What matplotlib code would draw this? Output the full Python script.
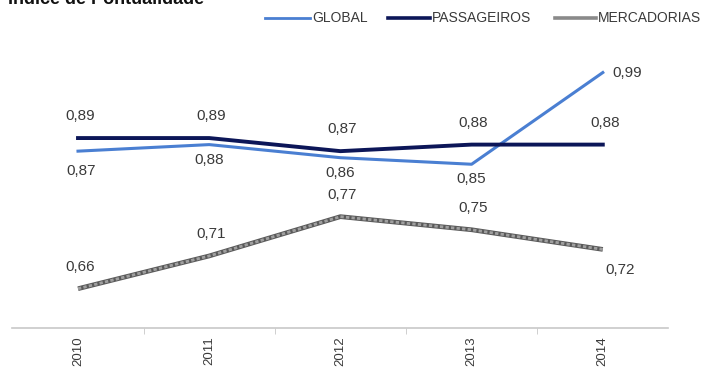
import matplotlib
matplotlib.use("Agg")
import matplotlib.pyplot as plt
from matplotlib.lines import Line2D

plt.rcParams['font.family'] = ['Liberation Sans', 'DejaVu Sans']

years = ['2010', '2011', '2012', '2013', '2014']
global_vals = [0.87, 0.88, 0.86, 0.85, 0.99]
passageiros_vals = [0.89, 0.89, 0.87, 0.88, 0.88]
mercadorias_vals = [0.66, 0.71, 0.77, 0.75, 0.72]
series_names = ['GLOBAL', 'PASSAGEIROS', 'MERCADORIAS']

c_global = '#4a7fd2'
c_pass = '#0c1658'
c_merc = '#8a8a8a'
c_text = '#3a3a3a'

W, H = 709, 370
fig = plt.figure(figsize=(W / 100, H / 100), dpi=100)
ax = fig.add_axes([12.4 / W, 42 / H, 656 / W, 262 / H])

x = list(range(len(years)))
ax.plot(x, mercadorias_vals, color='#5a5a5a', lw=3.4, solid_capstyle='butt', zorder=2)
ax.plot(x, mercadorias_vals, color='#a0a0a0', lw=2.0, ls=(0, (1.2, 0.8)), zorder=3)
ax.plot(x, global_vals, color=c_global, lw=2.2, zorder=4)
ax.plot(x, passageiros_vals, color=c_pass, lw=2.8, zorder=5)

ax.set_xlim(-0.5, len(years) - 0.5)
ax.set_ylim(0.60, 1.0)


def fmt(v):
    return f"{v:.2f}".replace('.', ',')


def label(i, v, dx_px, dy_px, ha='center'):
    # offsets given in pixels, converted to points (100 dpi)
    ax.annotate(fmt(v), (i, v), xytext=(dx_px * 0.72, dy_px * 0.72),
                textcoords='offset points', ha=ha, va='center',
                fontsize=11, color=c_text, zorder=6)


# PASSAGEIROS labels above the line
for i, v in enumerate(passageiros_vals):
    label(i, v, 2, 22)
# GLOBAL labels below, last one to the right
for i, v in enumerate(global_vals):
    if i == len(global_vals) - 1:
        label(i, v, 10, 0, ha='left')
    elif i == 0:
        label(i, v, 3, -20)
    else:
        label(i, v, 0, -15)
# MERCADORIAS labels above, last one below
for i, v in enumerate(mercadorias_vals):
    if i == len(mercadorias_vals) - 1:
        label(i, v, 17, -21)
    else:
        label(i, v, 2, 22)

for s in ['top', 'right', 'left']:
    ax.spines[s].set_visible(False)
ax.spines['bottom'].set_color('#c8c8c8')
ax.spines['bottom'].set_linewidth(1.2)
ax.set_yticks([])

ax.set_xticks(x)
ax.set_xticklabels(years, rotation=90, fontsize=9.5, color=c_text)
ax.tick_params(axis='x', length=0, pad=6)
ax.set_xticks([i + 0.5 for i in range(len(years) - 1)], minor=True)
ax.tick_params(axis='x', which='minor', length=4, color='#c8c8c8', direction='out')

fig.text(8 / W, 1 - 4 / H, 'Índice de Pontualidade', fontsize=13,
         fontweight='bold', color='#111111', ha='left', va='baseline')

# legend drawn in figure pixels
legend_y = 1 - 18 / H
legend_items = [
    (series_names[0], c_global, 2.0, 265, 310),
    (series_names[1], c_pass, 2.6, 388, 430),
    (series_names[2], c_merc, 2.6, 555, 596),
]
for name, col, lw, x0, x1 in legend_items:
    fig.add_artist(Line2D([x0 / W, x1 / W], [legend_y, legend_y], color=col,
                          lw=lw, transform=fig.transFigure))
    fig.text((x1 + 2) / W, legend_y, name, fontsize=10, color=c_text,
             ha='left', va='center')

fig.savefig('out.png', dpi=100, facecolor='white')
